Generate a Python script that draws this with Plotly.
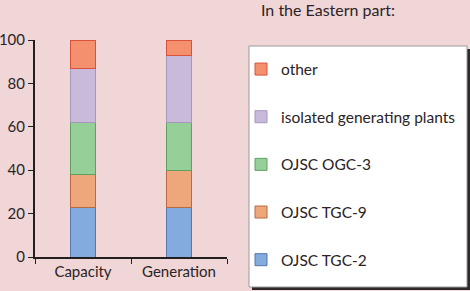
import plotly.graph_objects as go

categories = ["Capacity", "Generation"]
series_names = ["OJSC TGC-2", "OJSC TGC-9", "OJSC OGC-3", "isolated generating plants", "other"]
tgc2 = [23, 23]
tgc9 = [15, 17]
ogc3 = [24, 22]
isolated = [25, 31]
other = [13, 7]

values = [tgc2, tgc9, ogc3, isolated, other]
fills = ["#84ABDD", "#EDA77A", "#96D098", "#C9BADB", "#F5906F"]
edges = ["#5577B0", "#B86A45", "#5FA062", "#A796BE", "#D9533A"]

fig = go.Figure()
for i, (name, vals, fc, ec) in enumerate(zip(series_names, values, fills, edges)):
    fig.add_trace(go.Bar(
        x=categories, y=vals, name=name, legendgroup=name,
        legendrank=len(series_names) - i,
        marker=dict(color=fc, line=dict(color=ec, width=1)),
        width=0.27,
    ))


def px_x(p):
    return (p - 35) / 192


def px_y(p):
    return (257 - p) / 217


# legend box drawn as shapes: dark drop shadow, then white panel
fig.add_shape(type="rect", xref="paper", yref="paper",
              x0=px_x(252), x1=px_x(470), y0=px_y(290), y1=px_y(49),
              fillcolor="#2E2A2B", line_width=0, layer="above")
fig.add_shape(type="rect", xref="paper", yref="paper",
              x0=px_x(249), x1=px_x(467), y0=px_y(287), y1=px_y(46),
              fillcolor="white", line=dict(color="#9A9A9A", width=1), layer="above")

fig.update_layout(
    barmode="stack",
    width=470, height=291,
    margin=dict(l=35, r=243, t=40, b=34, autoexpand=False),
    paper_bgcolor="#F0D6D6",
    plot_bgcolor="#F0D6D6",
    font=dict(family="Lato, Open Sans, sans-serif", size=15, color="#2B2326"),
    showlegend=True,
    legend=dict(
        x=px_x(241), y=px_y(46), xanchor="left", yanchor="top",
        bgcolor="rgba(0,0,0,0)", borderwidth=0,
        traceorder="grouped", tracegroupgap=24.5,
        font=dict(size=15.5, color="#2B2326"),
        entrywidth=175, maxheight=300,
        title=dict(text=" ", font=dict(size=5)),
    ),
    xaxis=dict(
        showline=True, linecolor="#231F20", linewidth=2,
        ticks="outside", tickson="boundaries", ticklen=5, tickcolor="#231F20",
        showgrid=False,
    ),
    yaxis=dict(
        range=[0, 100], dtick=20,
        showline=True, linecolor="#231F20", linewidth=2,
        ticks="outside", ticklen=5, tickcolor="#231F20",
        showgrid=False, zeroline=False,
    ),
    annotations=[dict(
        text="In the Eastern part:", xref="paper", yref="paper",
        x=px_x(259), y=px_y(10), xanchor="left", yanchor="middle",
        showarrow=False, font=dict(size=16, color="#2B2326"),
    )],
)

fig.write_html("out.html", config={"displayModeBar": False},
               post_script="document.body.style.margin='0';")
